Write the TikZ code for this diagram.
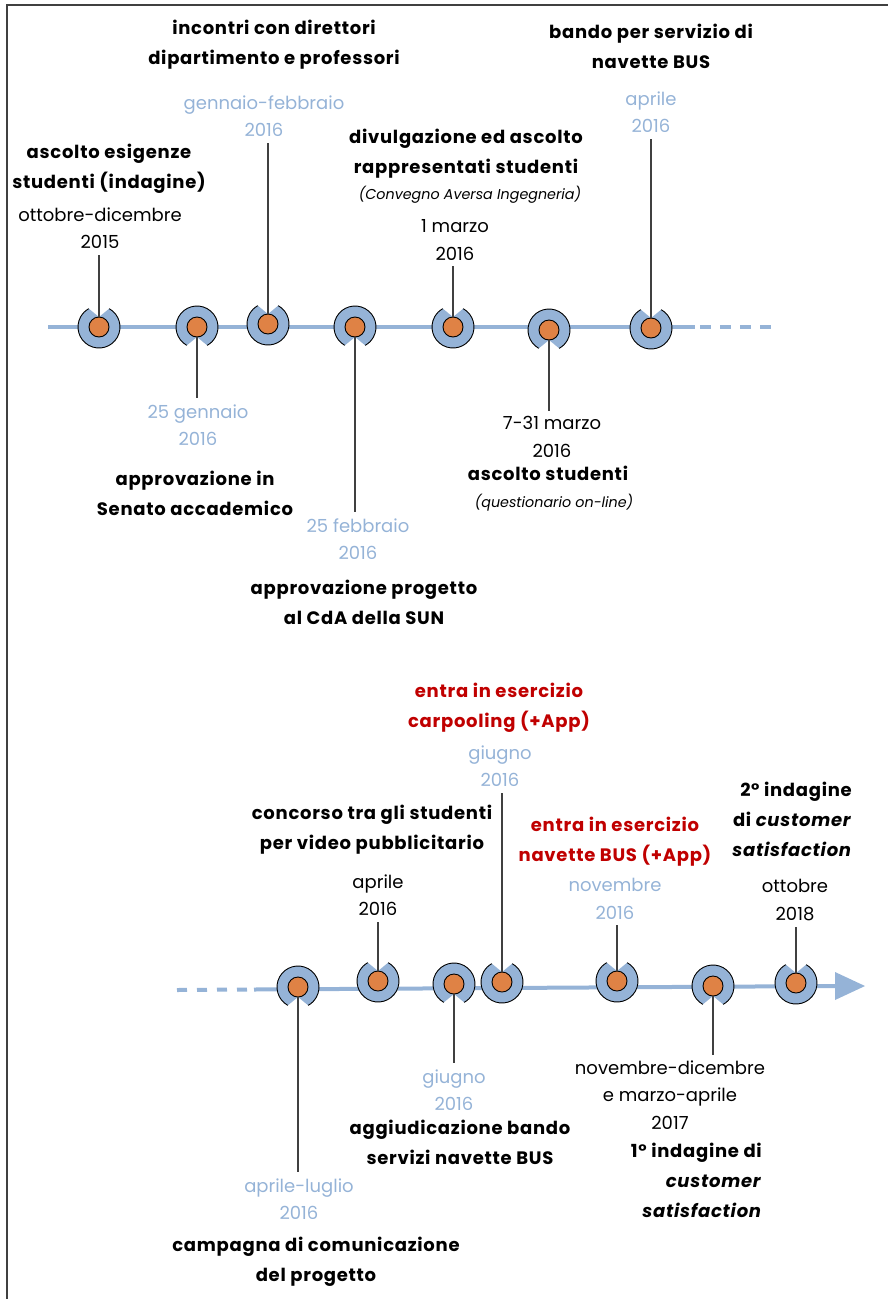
\documentclass[tikz,border=0pt]{standalone}
\usepackage{fontspec}
\setmainfont{Poppins}[BoldFeatures={LetterSpace=4}, BoldItalicFeatures={LetterSpace=4}]
\definecolor{tlblue}{HTML}{95B3D7}
\definecolor{dotorange}{HTML}{DF8245}
\definecolor{redtxt}{HTML}{C00000}
\definecolor{conngray}{HTML}{404040}
\newcommand\tlmark[4]{%
  \begin{scope}[shift={(#2,#3)}]
    \fill[tlblue] (#4:10) -- (#4+29:21) arc[start angle=#4+29, end angle=#4+331, radius=21] -- cycle;
    \draw[ringline] (#4+29:21) arc[start angle=#4+29, end angle=#4+331, radius=21];
  \end{scope}
  \node[dot] (#1) at (#2,#3) {};}
\begin{document}
\begin{tikzpicture}[x=1pt,y=-1pt,
  tlline/.style={line width=4pt, draw=tlblue},
  ringline/.style={draw=black, line width=0.9pt},
  conn/.style={draw=conngray, line width=1.2pt},
  dot/.style={circle, fill=dotorange, draw=black, line width=0.9pt, minimum size=20pt, inner sep=0pt},
  ttl/.style={font=\bfseries\fontsize{18}{30}\selectfont, align=center, inner sep=0pt},
  dat/.style={font=\fontsize{18}{27.5}\selectfont, align=center, inner sep=0pt, outer sep=6pt},
  bl/.style={text=tlblue},
  rd/.style={text=redtxt},
  note/.style={font=\itshape\fontsize{14.3}{15}\selectfont, inner sep=0pt}]
\useasboundingbox (0,0) rectangle (888,1299);
% frame
\draw[conngray, line width=1.5pt] (7,1299) -- (7,5) -- (888,5);
% timelines
\draw[tlline] (48,327) -- (695,327);
\draw[tlline, dash pattern=on 10.5pt off 9.5pt] (700,327) -- (772,327);
\draw[tlline, dash pattern=on 10pt off 10pt] (177,990) -- (247,989.5);
\draw[tlline] (254,989.5) -- (836,986);
\fill[tlblue] (835,972) -- (865,986) -- (835,1000) -- cycle;
% markers
\tlmark{m1}{99}{327}{-90}
\tlmark{m2}{197}{327}{90}
\tlmark{m3}{268}{324}{-90}
\tlmark{m4}{355}{327}{90}
\tlmark{m5}{453}{327}{-90}
\tlmark{m6}{549}{330}{90}
\tlmark{m7}{651}{328}{-90}
\tlmark{b1}{298}{987}{90}
\tlmark{b2}{378}{981}{-90}
\tlmark{b3}{454}{984}{90}
\tlmark{b4}{502}{982}{-90}
\tlmark{b5}{617}{981}{-90}
\tlmark{b6}{713}{986}{90}
\tlmark{b7}{796}{983}{-90}
% top texts
\node[ttl] (t1) at (109,169) {ascolto esigenze\\studenti (indagine)};
\node[dat] (d1) at (100,228) {ottobre-dicembre\\2015};
\node[ttl] (t3) at (274,45) {incontri con direttori\\dipartimento e professori};
\node[dat,bl] (d3) at (264,116) {gennaio-febbraio\\2016};
\node[ttl] (t5) at (466,154) {divulgazione ed ascolto\\rappresentati studenti};
\node[note] (n5) at (470,195) {(Convegno Aversa Ingegneria)};
\node[dat] (d5) at (455,240) {1 marzo\\2016};
\node[ttl] (t7) at (651,46) {bando per servizio di\\navette BUS};
\node[dat,bl] (d7) at (651,112) {aprile\\2016};
\node[dat,bl] (d2) at (198,425) {25 gennaio\\2016};
\node[ttl] (t2) at (195,493) {approvazione in\\Senato accademico};
\node[dat,bl] (d4) at (358,539) {25 febbraio\\2016};
\node[ttl] (t4) at (364,602) {approvazione progetto\\al CdA della SUN};
\node[dat] (d6) at (552,437) {7-31 marzo\\2016};
\node[ttl] (t6) at (548,473) {ascolto studenti};
\node[note] (n6) at (554,503) {(questionario on-line)};
% bottom texts
\node[ttl,rd] (u4) at (499,708) {entra in esercizio\\carpooling (+App)};
\node[dat,bl] (e4) at (500,766) {giugno\\2016};
\node[ttl] (u2) at (372,830) {concorso tra gli studenti\\per video pubblicitario};
\node[dat] (e2) at (378,895) {aprile\\2016};
\node[ttl,rd] (u5) at (615,842) {entra in esercizio\\navette BUS (+App)};
\node[dat,bl] (e5) at (615,899) {novembre\\2016};
\node[ttl,align=right,anchor=east] (u7) at (852,819) {2° indagine\\di \textit{customer}\\\textit{satisfaction}};
\node[dat] (e7) at (795,900) {ottobre\\2018};
\node[dat,bl] (e1) at (299,1199) {aprile-luglio\\2016};
\node[ttl] (u1) at (316,1262) {campagna di comunicazione\\del progetto};
\node[dat,bl] (e3) at (454,1090) {giugno\\2016};
\node[ttl] (u3) at (460,1142) {aggiudicazione bando\\servizi navette BUS};
\node[dat] (e6) at (670,1095) {novembre-dicembre\\e marzo-aprile\\2017};
\node[ttl,align=right,anchor=east] (u6) at (762,1180) {1° indagine di\\\textit{customer}\\\textit{satisfaction}};
% connectors
\draw[conn] (m1) -- (m1 |- d1.south);
\draw[conn] (m3) -- (m3 |- d3.south);
\draw[conn] (m5) -- (m5 |- d5.south);
\draw[conn] (m7) -- (m7 |- d7.south);
\draw[conn] (m2) -- (m2 |- d2.north);
\draw[conn] (m4) -- (m4 |- d4.north);
\draw[conn] (m6) -- (m6 |- d6.north);
\draw[conn] (b2) -- (b2 |- e2.south);
\draw[conn] (b4) -- (b4 |- e4.south);
\draw[conn] (b5) -- (b5 |- e5.south);
\draw[conn] (b7) -- (b7 |- e7.south);
\draw[conn] (b1) -- (b1 |- e1.north);
\draw[conn] (b3) -- (b3 |- e3.north);
\draw[conn] (b6) -- (b6 |- e6.north);
\end{tikzpicture}
\end{document}
